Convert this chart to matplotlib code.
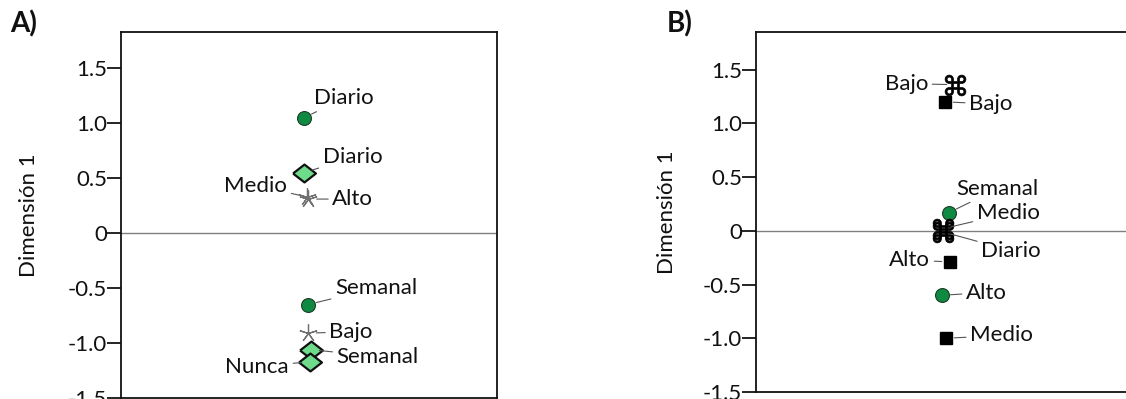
import numpy as np
import matplotlib
matplotlib.use('Agg')
import matplotlib.pyplot as plt

plt.rcParams['font.family'] = ['Lato', 'DejaVu Sans']

# panel A: dimension 2 (hidden axis) and dimension 1 values
a_circ_lab = ['Diario', 'Semanal']
a_circ_x = [-0.04, -0.008]
a_circ_y = [1.05, -0.65]
a_diam_lab = ['Diario', 'Semanal', 'Nunca']
a_diam_x = [-0.04, 0.016, 0.008]
a_diam_y = [0.55, -1.06, -1.17]
a_star_lab = ['Medio', 'Alto', 'Bajo']
a_star_x = [-0.015, -0.005, -0.008]
a_star_y = [0.33, 0.31, -0.91]

# panel B
b_circ_lab = ['Semanal', 'Alto']
b_circ_x = [0.04, -0.016]
b_circ_y = [0.17, -0.6]
b_sq_lab = ['Bajo', 'Alto', 'Medio']
b_sq_x = [0.008, 0.048, 0.016]
b_sq_y = [1.2, -0.29, -1.0]
b_cmd_lab = ['Bajo', 'Medio', 'Diario']
b_cmd_x = [0.088, -0.008, -0.008]
b_cmd_y = [1.36, 0.02, -0.01]

# label offsets (points)
a_circ_off = [(29, 14), (49, 12)]
a_diam_off = [(35, 11), (48, -5), (-38, -3.5)]
a_star_off = [(-37, 8), (32, 0), (31, 1)]
b_circ_off = [(35, 17), (32, 2)]
b_sq_off = [(33, -1.5), (-29, 1.5), (40, 2)]
b_cmd_off = [(-35, 0.7), (47, 11), (49, -13.5)]

yticks = [-1.5, -1.0, -0.5, 0, 0.5, 1.0, 1.5]
ytick_labels = ['-1.5', '-1.0', '-0.5', '0', '0.5', '1.0', '1.5']

dark_green = '#0f8a42'
light_green = '#6fdc8c'
txt = '#111111'
diamond = [(-1, 0), (0, 0.78), (1, 0), (0, -0.78), (-1, 0)]


def label(ax, xs, ys, labs, offs):
    for x, y, s, o in zip(xs, ys, labs, offs):
        ax.annotate(s, (x, y), xytext=o, textcoords='offset points',
                    ha='center', va='center', fontsize=16, color=txt,
                    arrowprops=dict(arrowstyle='-', color='#555555', lw=0.8,
                                    shrinkA=1, shrinkB=6))


def setup(ax, ytop, labx):
    ax.set_xlim(-1.5, 1.5)
    ax.set_ylim(-1.5, ytop)
    ax.axhline(0, color='#808080', lw=1, zorder=1)
    ax.set_xticks([])
    ax.set_yticks(yticks)
    ax.set_yticklabels(ytick_labels, fontsize=16, color=txt)
    ax.tick_params(axis='y', length=10, width=1.2, pad=0)
    for sp in ax.spines.values():
        sp.set_linewidth(1.3)
        sp.set_color('#111111')
    ax.set_ylabel('Dimensión 1', fontsize=16, color=txt)
    ax.yaxis.set_label_coords(labx, 0.5)


fig = plt.figure(figsize=(11.26, 3.99), dpi=100)

ax1 = fig.add_axes([121 / 1126, 1 / 399, 376 / 1126, 366 / 399])
setup(ax1, 1.83, -(121 - 39) / 376)
ax1.plot(a_circ_x, a_circ_y, 'o', ms=10, mfc=dark_green, mec='#1d3d27', mew=0.8, ls='none', zorder=3)
ax1.plot(a_diam_x, a_diam_y, marker=diamond, ms=16.5, mfc=light_green, mec='#111111', mew=1.6, ls='none', zorder=3)
ax1.plot(a_star_x, a_star_y, marker=(5, 2, 0), ms=13, mec='#707070', mew=0.9, ls='none', zorder=3)
label(ax1, a_circ_x, a_circ_y, a_circ_lab, a_circ_off)
label(ax1, a_diam_x, a_diam_y, a_diam_lab, a_diam_off)
label(ax1, a_star_x, a_star_y, a_star_lab, a_star_off)

ax2 = fig.add_axes([756 / 1126, 7 / 399, 376 / 1126, 360 / 399])
setup(ax2, 1.85, -(756 - 677) / 376)
ax2.plot(b_circ_x, b_circ_y, 'o', ms=10, mfc=dark_green, mec='#1d3d27', mew=0.8, ls='none', zorder=3)
ax2.plot(b_sq_x, b_sq_y, 's', ms=8.5, mfc='black', mec='black', ls='none', zorder=3)
ax2.plot(b_cmd_x, b_cmd_y, marker='$⌘$', ms=15, mfc='black', mec='black', mew=0.5, ls='none', zorder=3)
label(ax2, b_circ_x, b_circ_y, b_circ_lab, b_circ_off)
label(ax2, b_sq_x, b_sq_y, b_sq_lab, b_sq_off)
label(ax2, b_cmd_x, b_cmd_y, b_cmd_lab, b_cmd_off)

fig.text(10 / 1126, 1 - 24 / 399, 'A)', fontsize=20, fontweight='bold', va='center', ha='left', color=txt)
fig.text(667 / 1126, 1 - 24 / 399, 'B)', fontsize=20, fontweight='bold', va='center', ha='left', color=txt)

fig.savefig('out.png', dpi=100)
